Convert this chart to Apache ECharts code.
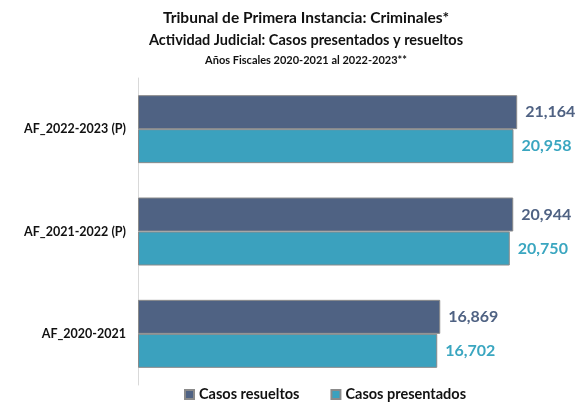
<!DOCTYPE html>
<html>
<head>
<meta charset="utf-8">
<script src="https://cdn.jsdelivr.net/npm/echarts@6/dist/echarts.min.js"></script>
<style>
  html, body { margin: 0; padding: 0; background: #fff; }
  #chart { width: 585px; height: 407px; }
</style>
</head>
<body>
<div id="chart"></div>
<script>
const categories = ['AF_2022-2023 (P)', 'AF_2021-2022 (P)', 'AF_2020-2021']
const resueltos = [21164, 20944, 16869]
const presentados = [20958, 20750, 16702]

const font = 'Lato, "Open Sans", sans-serif'
const chart = echarts.init(document.getElementById('chart'))

const valueLabel = (color) => ({
  show: true,
  position: 'right',
  distance: 8,
  color,
  fontFamily: font,
  fontWeight: 'bold',
  fontSize: 16,
  formatter: (p) => p.value.toLocaleString('en-US')
})

chart.setOption({
  animation: false,
  title: [
    { text: 'Tribunal de Primera Instancia: Criminales*', left: 301, top: 5, textAlign: 'center',
      textStyle: { fontFamily: font, fontSize: 15.5, fontWeight: 'bold', color: '#111' } },
    { text: 'Actividad Judicial: Casos presentados y resueltos', left: 301, top: 28, textAlign: 'center',
      textStyle: { fontFamily: font, fontSize: 14.5, fontWeight: 'bold', color: '#111' } },
    { text: 'Años Fiscales 2020-2021 al 2022-2023**', left: 301, top: 50, textAlign: 'center',
      textStyle: { fontFamily: font, fontSize: 11, fontWeight: 'bold', color: '#111' } }
  ],
  legend: {
    bottom: 0,
    left: 179,
    itemWidth: 9,
    itemHeight: 9,
    itemGap: 31,
    icon: 'rect',
    textStyle: { fontFamily: font, fontSize: 14.5, fontWeight: 'bold', color: '#111' },
    data: ['Casos resueltos', 'Casos presentados']
  },
  grid: { left: 138, right: 17, top: 78, bottom: 22 },
  xAxis: {
    type: 'value',
    min: 0,
    max: 24000,
    show: false
  },
  yAxis: {
    type: 'category',
    inverse: true,
    data: categories,
    axisLine: { lineStyle: { color: '#d9d9d9' } },
    axisTick: { show: false },
    axisLabel: { margin: 12, fontFamily: font, fontSize: 12.5, fontWeight: 'bold', color: '#111' }
  },
  series: [
    {
      name: 'Casos resueltos',
      type: 'bar',
      data: resueltos,
      barWidth: 34,
      barGap: '0%',
      itemStyle: { color: '#4f6283', borderColor: '#8a8a8a', borderWidth: 1 },
      label: valueLabel('#4f6283')
    },
    {
      name: 'Casos presentados',
      type: 'bar',
      data: presentados,
      barWidth: 34,
      barGap: '0%',
      itemStyle: { color: '#3ba1be', borderColor: '#8a8a8a', borderWidth: 1 },
      label: valueLabel('#3aa6c0')
    }
  ]
})
</script>
</body>
</html>
